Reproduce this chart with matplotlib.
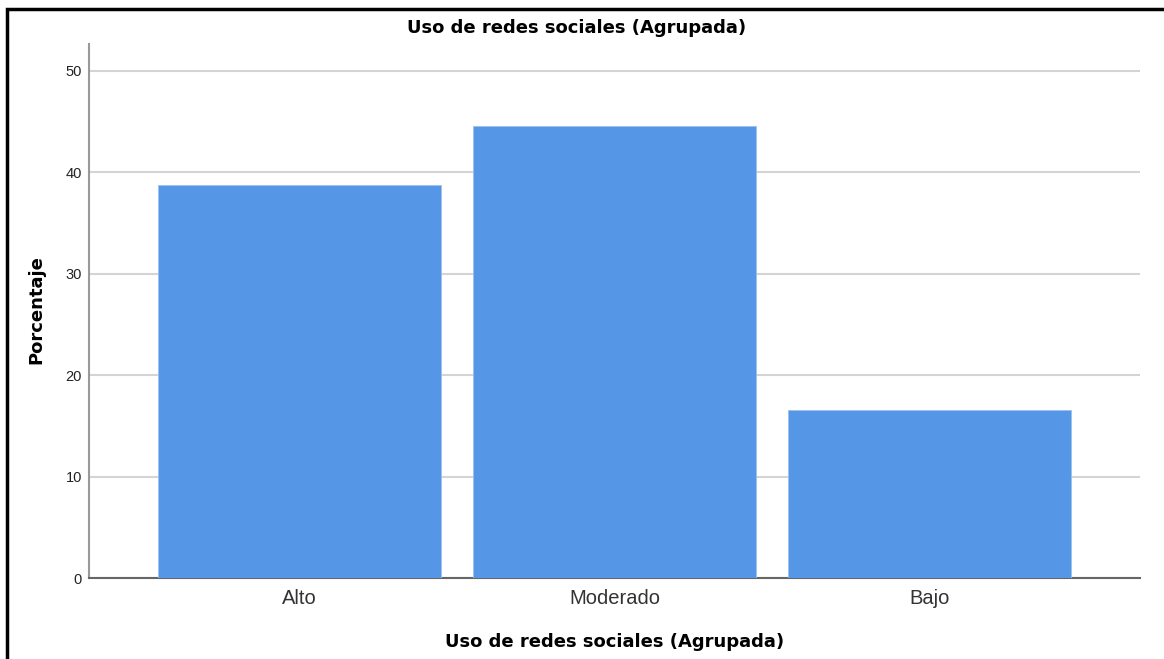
import matplotlib.pyplot as plt
from matplotlib.patches import Rectangle

# data
categorias = ['Alto', 'Moderado', 'Bajo']
porcentajes = [38.8, 44.6, 16.6]

titulo = 'Uso de redes sociales (Agrupada)'

plt.rcParams['font.family'] = ['Liberation Sans', 'DejaVu Sans']

fig = plt.figure(figsize=(11.64, 6.59), dpi=100)
ax = fig.add_axes([89/1164, 1 - 578/659, (1140-89)/1164, (578-44)/659])

x = range(len(categorias))
ax.bar(x, porcentajes, width=0.898, color='#5596E6', edgecolor='#9cc0ee', linewidth=0.6, zorder=3)

ax.set_xlim(-0.668, 2.668)
ax.set_ylim(0, 52.66)
ax.set_yticks([0, 10, 20, 30, 40, 50])
ax.set_xticks(list(x))
ax.set_xticklabels(categorias, fontsize=14.5, color='#333333')
ax.tick_params(axis='y', labelsize=10.5, length=0, pad=5, colors='#222222')
ax.tick_params(axis='x', length=0, pad=8)
ax.yaxis.grid(True, color='#d4d4d4', linewidth=1.5, zorder=0)

for s in ['top', 'right']:
    ax.spines[s].set_visible(False)
ax.spines['left'].set_color('#999999')
ax.spines['left'].set_linewidth(1.5)
ax.spines['bottom'].set_color('#666666')
ax.spines['bottom'].set_linewidth(1.5)

bold = dict(fontsize=13, fontweight='bold', family='DejaVu Sans', ha='center', va='center')
fig.text(577/1164, 1 - 28/659, titulo, **bold)
fig.text(615/1164, 1 - 642/659, titulo, **bold)
fig.text(36/1164, 1 - 310/659, 'Porcentaje', rotation=90, **bold)

# frame around the figure
fig.patches.append(Rectangle((7/1164, -0.01), 1.1, 1 - 9/659 + 0.01, transform=fig.transFigure,
                             fill=False, edgecolor='black', linewidth=2.5))

plt.savefig('out.png', dpi=100)
